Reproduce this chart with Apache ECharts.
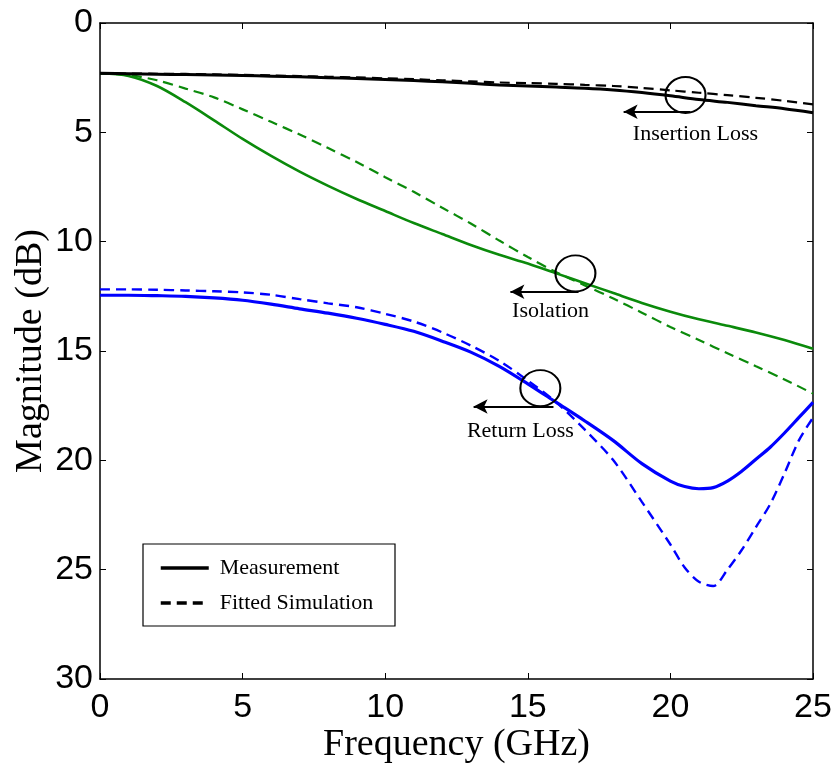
<!DOCTYPE html>
<html>
<head>
<meta charset="utf-8">
<script src="https://cdn.jsdelivr.net/npm/echarts@6/dist/echarts.min.js"></script>
<style>
  html, body { margin: 0; padding: 0; background: #fff; }
  #chart { width: 835px; height: 765px; }
</style>
</head>
<body>
<div id="chart"></div>
<script>
// Frequency sample points (GHz) for each trace
const freqA = [0, 1, 2, 3, 4, 5, 6, 7, 8, 9, 10, 11, 12, 13, 14, 15, 16, 17, 18, 19, 20, 21, 22, 23, 24, 25];

// Insertion loss (dB)
const insertionMeas = [2.30, 2.32, 2.34, 2.36, 2.38, 2.40, 2.43, 2.46, 2.50, 2.54, 2.58, 2.63, 2.69, 2.76, 2.83, 2.88, 2.93, 2.98, 3.06, 3.18, 3.33, 3.50, 3.63, 3.78, 3.92, 4.10];
const insertionSim  = [2.30, 2.31, 2.32, 2.33, 2.35, 2.37, 2.40, 2.43, 2.46, 2.49, 2.53, 2.57, 2.62, 2.67, 2.72, 2.75, 2.78, 2.83, 2.88, 2.97, 3.08, 3.19, 3.30, 3.42, 3.56, 3.72];

// Isolation (dB)
const isolationMeas = [2.30, 2.42, 2.88, 3.62, 4.45, 5.30, 6.08, 6.80, 7.45, 8.05, 8.60, 9.15, 9.65, 10.15, 10.60, 11.00, 11.45, 11.90, 12.35, 12.80, 13.20, 13.55, 13.85, 14.15, 14.50, 14.90];
const isolationSim  = [2.30, 2.38, 2.62, 3.00, 3.40, 3.95, 4.52, 5.10, 5.72, 6.36, 7.05, 7.72, 8.45, 9.17, 9.95, 10.70, 11.40, 12.00, 12.60, 13.25, 13.90, 14.50, 15.10, 15.70, 16.30, 16.95];

// Return loss (dB), denser sampling around the resonance dip
const freqB = [0, 1, 2, 3, 4, 5, 6, 7, 8, 9, 10, 11, 12, 13, 14, 15, 16, 17, 18, 19, 20, 20.5, 21, 21.5, 22, 22.5, 23, 23.5, 24, 24.5, 25];
const returnMeas = [12.45, 12.45, 12.47, 12.50, 12.57, 12.68, 12.86, 13.07, 13.27, 13.50, 13.78, 14.10, 14.55, 15.05, 15.70, 16.50, 17.35, 18.20, 19.10, 20.15, 20.95, 21.20, 21.30, 21.25, 20.95, 20.50, 19.95, 19.40, 18.75, 18.05, 17.35];
const returnSim  = [12.18, 12.18, 12.20, 12.23, 12.27, 12.32, 12.43, 12.63, 12.82, 13.00, 13.30, 13.65, 14.15, 14.75, 15.45, 16.35, 17.35, 18.60, 20.00, 21.90, 23.85, 24.90, 25.55, 25.75, 25.00, 24.10, 23.05, 22.00, 20.60, 19.10, 18.05];

// Axis ticks
const xTicks = [0, 5, 10, 15, 20, 25];
const yTicks = [0, 5, 10, 15, 20, 25, 30];

// Callouts: circle centre, arrow start/end and caption centre (data units)
const calloutNames   = ['Insertion Loss', 'Isolation', 'Return Loss'];
const calloutCircle  = [[20.53, 3.29], [16.67, 11.45], [15.44, 16.70]];
const calloutArrowA  = [[20.70, 4.06], [16.78, 12.29], [15.90, 17.54]];
const calloutArrowB  = [[18.36, 4.06], [14.39, 12.29], [13.10, 17.54]];
const calloutCaption = [[20.88, 5.10], [15.80, 13.18], [14.74, 18.68]];

const GREEN = '#0b8a0b';
const BLUE = '#0000ff';
const DASH = [10, 6];
const SERIF = '"Liberation Serif", "DejaVu Serif", serif';
const SANS = '"Liberation Sans", Arial, sans-serif';

const pair = (xs, ys) => ys.map((v, i) => [xs[i], v]);

function trace(name, xs, ys, color, dashed, width) {
  return {
    type: 'line',
    name: name,
    data: pair(xs, ys),
    symbol: 'none',
    smooth: 0.3,
    silent: true,
    z: 3,
    lineStyle: { color: color, width: width, type: dashed ? DASH : 'solid' },
    itemStyle: { color: color }
  };
}

const chart = echarts.init(document.getElementById('chart'), null, { renderer: 'canvas' });

const axisCommon = {
  type: 'value',
  axisLine: { show: true, onZero: false, lineStyle: { color: '#000', width: 1.5 } },
  axisTick: { show: true, inside: true, length: 6, lineStyle: { color: '#000', width: 1 } },
  splitLine: { show: false }
};

const option = {
  animation: false,
  backgroundColor: '#fff',
  grid: { left: 100, right: 22, top: 23, bottom: 86, containLabel: false, outerBoundsMode: 'none' },
  xAxis: [
    Object.assign({}, axisCommon, {
      position: 'bottom',
      min: xTicks[0], max: xTicks[xTicks.length - 1], interval: xTicks[1] - xTicks[0],
      name: 'Frequency (GHz)', nameLocation: 'middle', nameGap: 47, nameMoveOverlap: false,
      nameTextStyle: { fontFamily: SERIF, fontSize: 38, color: '#000' },
      axisLabel: { show: true, margin: 12, fontFamily: SANS, fontSize: 34, color: '#000' }
    }),
    Object.assign({}, axisCommon, {
      position: 'top',
      min: xTicks[0], max: xTicks[xTicks.length - 1], interval: xTicks[1] - xTicks[0],
      axisLabel: { show: false }
    })
  ],
  yAxis: [
    Object.assign({}, axisCommon, {
      position: 'left', inverse: true,
      min: yTicks[0], max: yTicks[yTicks.length - 1], interval: yTicks[1] - yTicks[0],
      name: 'Magnitude (dB)', nameLocation: 'middle', nameGap: 50, nameRotate: 90, nameMoveOverlap: false,
      nameTextStyle: { fontFamily: SERIF, fontSize: 38, color: '#000' },
      axisLabel: { show: true, margin: 7, fontFamily: SANS, fontSize: 34, color: '#000' }
    }),
    Object.assign({}, axisCommon, {
      position: 'right', inverse: true,
      min: yTicks[0], max: yTicks[yTicks.length - 1], interval: yTicks[1] - yTicks[0],
      axisLabel: { show: false }
    })
  ],
  legend: {
    orient: 'vertical',
    left: 159, top: 557,
    padding: 0,
    itemWidth: 48, itemHeight: 14, itemGap: 13,
    textStyle: { fontFamily: SERIF, fontSize: 22, color: '#000', padding: [0, 0, 0, 6] },
    data: ['Measurement', 'Fitted Simulation'].map(n => ({
      name: n,
      itemStyle: { opacity: 0 },
      lineStyle: { width: 3.5 }
    }))
  },
  graphic: [{
    type: 'rect',
    shape: { x: 143, y: 544, width: 252, height: 82 },
    style: { fill: 'rgba(0,0,0,0)', stroke: '#000', lineWidth: 1.2 },
    z: 10, silent: true
  }],
  series: [
    // legend keys
    { type: 'line', name: 'Measurement', data: [], symbol: 'none', itemStyle: { color: '#000' }, lineStyle: { color: '#000', width: 3.5, type: 'solid' } },
    { type: 'line', name: 'Fitted Simulation', data: [], symbol: 'none', itemStyle: { color: '#000' }, lineStyle: { color: '#000', width: 3.5, type: DASH } },

    trace('Isolation (sim)', freqA, isolationSim, GREEN, true, 2.2),
    trace('Isolation (meas)', freqA, isolationMeas, GREEN, false, 2.6),
    trace('Return Loss (sim)', freqB, returnSim, BLUE, true, 2.4),
    trace('Return Loss (meas)', freqB, returnMeas, BLUE, false, 3.2),
    trace('Insertion Loss (sim)', freqA, insertionSim, '#000', true, 2.2),
    trace('Insertion Loss (meas)', freqA, insertionMeas, '#000', false, 3),

    // callout circles
    {
      type: 'scatter', name: 'callout-circles', silent: true, z: 5,
      data: calloutCircle,
      symbol: 'circle', symbolSize: [40, 36],
      itemStyle: { color: 'rgba(0,0,0,0)', borderColor: '#000', borderWidth: 2, opacity: 1 }
    },
    // callout captions and arrows
    {
      type: 'scatter', name: 'callout-captions', silent: true, z: 5,
      data: calloutCaption.map((c, i) => ({ value: c, name: calloutNames[i] })),
      symbolSize: 0,
      itemStyle: { opacity: 1 },
      label: {
        show: true, position: 'inside', formatter: '{b}',
        fontFamily: SERIF, fontSize: 22, color: '#000', textBorderWidth: 0
      },
      markLine: {
        silent: true,
        symbol: ['none', 'arrow'],
        symbolSize: [11, 14],
        label: { show: false },
        lineStyle: { color: '#000', width: 2, type: 'solid', opacity: 1 },
        data: calloutArrowA.map((a, i) => [{ coord: a }, { coord: calloutArrowB[i] }])
      }
    }
  ]
};

chart.setOption(option);
</script>
</body>
</html>
